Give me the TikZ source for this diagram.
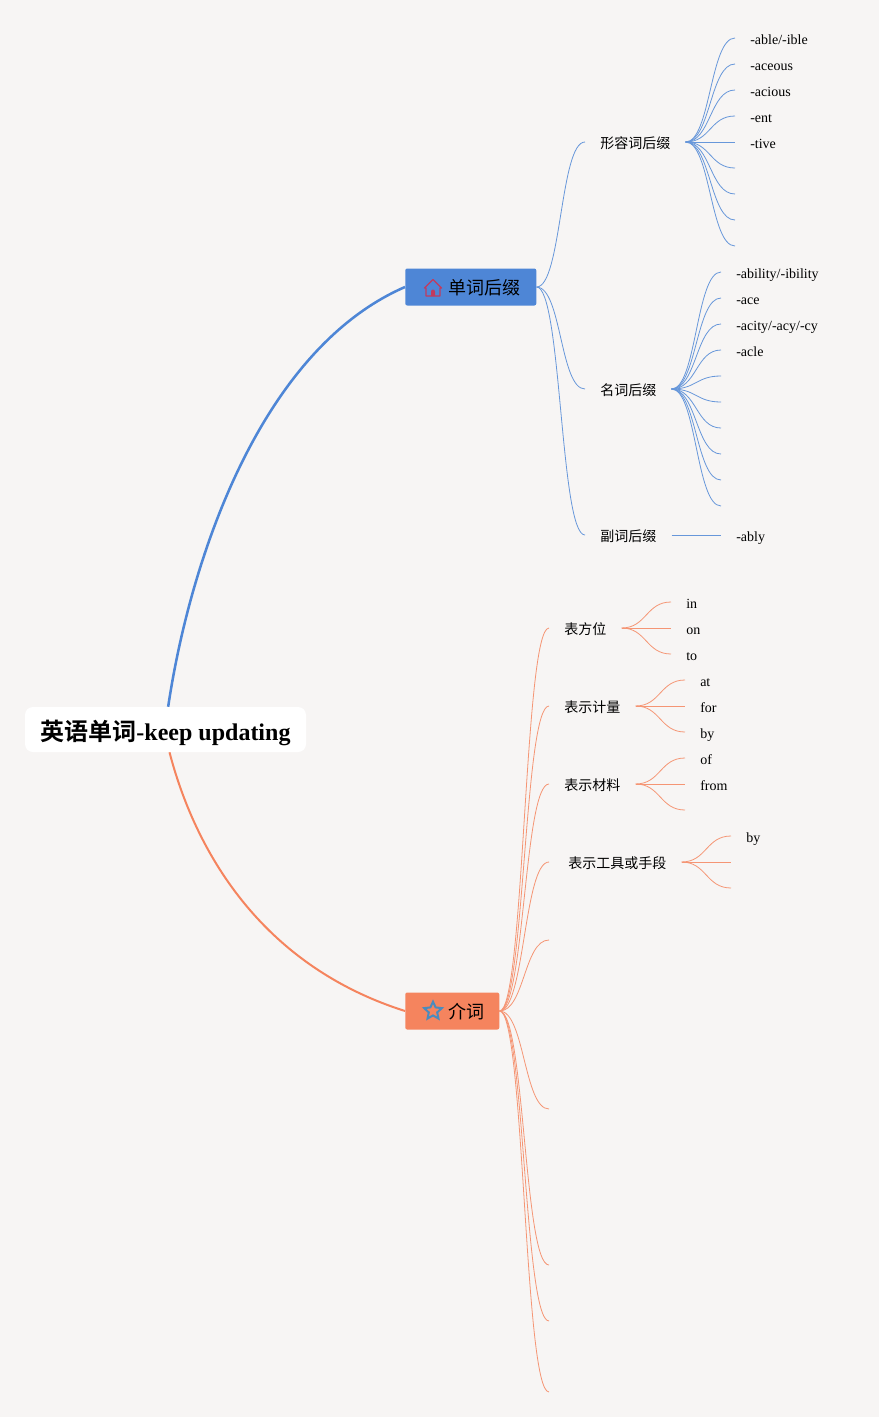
\documentclass[tikz,border=0pt]{standalone}
\usepackage{fontspec}
\setmainfont{Liberation Serif}
\newfontfamily\cjk[BoldFont={Noto Sans CJK SC Bold}]{Noto Sans CJK SC}
\usepackage{tikz}
\usetikzlibrary{shapes.geometric}
\definecolor{pagebg}{HTML}{F7F5F4}
\definecolor{wordblue}{HTML}{4E86D6}
\definecolor{prepred}{HTML}{F5845E}
\definecolor{houseicon}{HTML}{C23A5E}
\definecolor{staricon}{HTML}{4A8BBE}

\begin{document}
\begin{tikzpicture}[x=0.75pt,y=-0.75pt,
		rootnode/.style={fill=white,rounded corners=6pt,minimum width=210.75pt,minimum height=33.75pt,inner sep=0pt,text height=19pt,text depth=2.4pt,font=\fontsize{18}{22}\selectfont},
		mainnode/.style={rounded corners=1.5pt,minimum height=27.75pt,inner sep=0pt,text height=14pt,text depth=2.2pt,anchor=west,font=\fontsize{13.5}{16}\selectfont},
		branch/.style={inner xsep=11.25pt,inner ysep=0pt,text height=11pt,text depth=1.5pt,anchor=west,font=\fontsize{10.5}{13}\selectfont\cjk},
		leaf/.style={inner xsep=11.25pt,inner ysep=0pt,text height=11pt,text depth=2pt,anchor=west,font=\fontsize{10.5}{13}\selectfont},
		twig/.style={to path={.. controls +(25,0) and +(-25,0) .. (\tikztotarget)}},
		bluetwig/.style={twig,draw=wordblue!85!pagebg,line width=0.6pt},
		redtwig/.style={twig,draw=prepred!85!pagebg,line width=0.6pt}]
		\path[use as bounding box,fill=pagebg] (0,0) rectangle (879,1417);

		\node[rootnode] (root) at (165.5,729.5) {{\cjk\bfseries 英语单词}{\bfseries -keep updating}};
		\node[mainnode,fill=wordblue,minimum width=98.25pt] (suffix) at (405,287) {\hspace*{21pt}\cjk 单词后缀};
		\node[mainnode,fill=prepred,minimum width=70.5pt] (prep) at (405,1011) {\hspace*{21pt}\cjk 介词};

		% icons
		\draw[houseicon,line width=1pt,line join=round] (424.5,288) -- (433,279.5) -- (441.5,288) -- (440,288) -- (440,296) -- (426,296) -- (426,288) -- cycle;
		\fill[houseicon] (431,296) -- (431,291.5) arc[start angle=180,end angle=360,radius=2] -- (435,296) -- cycle;
		\node[star,star points=5,star point ratio=2.1,draw=staricon,line width=1.5pt,minimum size=14pt,inner sep=0pt] (staricn) at (433,1011) {};

		\draw[wordblue,line width=1.9pt] ([xshift=2pt]root.north) .. controls (190,560) and (260,350) .. (suffix.west);
		\draw[prepred,line width=1.5pt] ([xshift=3pt]root.south) .. controls (195,850) and (260,965) .. (prep.west);

		% suffix side
		\node[branch] (adj) at (585,142) {形容词后缀};
		\node[branch] (noun) at (585,389) {名词后缀};
		\node[branch] (adv) at (585,535) {副词后缀};
		\foreach \nm in {adj,noun,adv}
			\draw[bluetwig] (suffix.east) to (\nm.west);

		\foreach \i/\y/\txt in {1/38/-able\slash -ible,2/64/-aceous,3/90/-acious,4/116/-ent,5/142/-tive}
		{
			\node[leaf] (adj\i) at (735,\y) {\txt};
			\draw[bluetwig] (adj.east) to (adj\i.west);
		}
		\foreach \i/\y in {6/168,7/194,8/220,9/246}
		{
			\coordinate (adj\i) at (735,\y);
			\draw[bluetwig] (adj.east) to (adj\i);
		}

		\foreach \i/\y/\txt in {1/272/-ability\slash -ibility,2/298/-ace,3/324/-acity\slash -acy\slash -cy,4/350/-acle}
		{
			\node[leaf] (noun\i) at (721,\y) {\txt};
			\draw[bluetwig] (noun.east) to (noun\i.west);
		}
		\foreach \i/\y in {5/376,6/402,7/428,8/454,9/480,10/506}
		{
			\coordinate (noun\i) at (721,\y);
			\draw[bluetwig] (noun.east) to (noun\i);
		}

		\node[leaf] (adv1) at (721,535) {-ably};
		\draw[bluetwig] (adv.east) -- (adv1.west);

		% preposition side
		\node[branch] (place) at (549,628) {表方位};
		\node[branch] (measure) at (549,706) {表示计量};
		\node[branch] (material) at (549,784) {表示材料};
		\node[branch,minimum width=99pt] (tool) at (549,862) {\hspace*{3pt}表示工具或手段};
		\foreach \nm in {place,measure,material,tool}
			\draw[redtwig] (prep.east) to (\nm.west);
		\foreach \i/\y in {1/940,2/1109,3/1265,4/1321,5/1392}
		{
			\coordinate (free\i) at (549,\y);
			\draw[redtwig] (prep.east) to (free\i);
		}

		\foreach \i/\y/\txt in {1/602/in,2/628/on,3/654/to}
		{
			\node[leaf] (place\i) at (671,\y) {\txt};
			\draw[redtwig] (place.east) to (place\i.west);
		}
		\foreach \i/\y/\txt in {1/680/at,2/706/for,3/732/by}
		{
			\node[leaf] (measure\i) at (685,\y) {\txt};
			\draw[redtwig] (measure.east) to (measure\i.west);
		}
		\foreach \i/\y/\txt in {1/758/of,2/784/from}
		{
			\node[leaf] (material\i) at (685,\y) {\txt};
			\draw[redtwig] (material.east) to (material\i.west);
		}
		\coordinate (material3) at (685,810);
		\draw[redtwig] (material.east) to (material3);

		\node[leaf] (tool1) at (731,836) {by};
		\coordinate (tool2) at (731,862);
		\coordinate (tool3) at (731,888);
		\draw[redtwig] (tool.east) to (tool1.west);
		\draw[redtwig] (tool.east) to (tool2);
		\draw[redtwig] (tool.east) to (tool3);
	\end{tikzpicture}
\end{document}
